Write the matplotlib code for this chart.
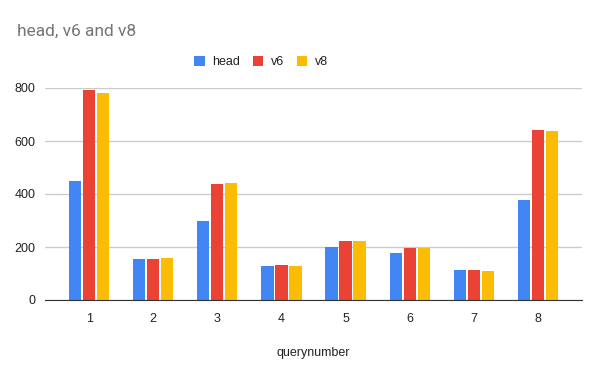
import matplotlib.pyplot as plt
import numpy as np

plt.rcParams['font.family'] = ['Liberation Sans', 'DejaVu Sans']

queries = [1, 2, 3, 4, 5, 6, 7, 8]
head = [450, 155, 298, 128, 200, 178, 113, 378]
v6 = [792, 155, 438, 132, 223, 196, 113, 642]
v8 = [782, 159, 442, 128, 223, 196, 110, 639]

colors = ["#4285F4", "#EA4335", "#FBBC04"]

fig = plt.figure(figsize=(6, 3.71), dpi=100)
ax = fig.add_axes([45 / 600, 71 / 371, 537 / 600, 212 / 371])

x = np.array(queries)
w = 0.19
step = 0.218
ax.bar(x - step, head, w, color=colors[0], label="head", zorder=3)
ax.bar(x, v6, w, color=colors[1], label="v6", zorder=3)
ax.bar(x + step, v8, w, color=colors[2], label="v8", zorder=3)

ax.set_xlim(0.31, 8.69)
ax.set_ylim(0, 800)
ax.set_yticks([0, 200, 400, 600, 800])
ax.set_xticks(queries)
ax.yaxis.grid(True, color="#cccccc", linewidth=1, zorder=0)
for s in ["top", "right", "left"]:
    ax.spines[s].set_visible(False)
ax.spines["bottom"].set_color("#333333")
ax.spines["bottom"].set_zorder(4)
ax.tick_params(length=0, labelsize=9, colors="#222222")
ax.tick_params(axis="x", pad=9)
ax.tick_params(axis="y", pad=7)
ax.set_xlabel("querynumber", fontsize=9, color="#222222", labelpad=16)

fig.text(17 / 600, 1 - 31 / 371, "head, v6 and v8", fontsize=12.5, color="#757575",
         va="center", family="Roboto")
fig.legend(loc="center", bbox_to_anchor=(261 / 600, 1 - 62 / 371), ncol=3, frameon=False,
           fontsize=9, handlelength=0.85, handleheight=0.85, handletextpad=0.6,
           columnspacing=1.0, labelcolor="#222222")

fig.savefig("out.png", dpi=100)
